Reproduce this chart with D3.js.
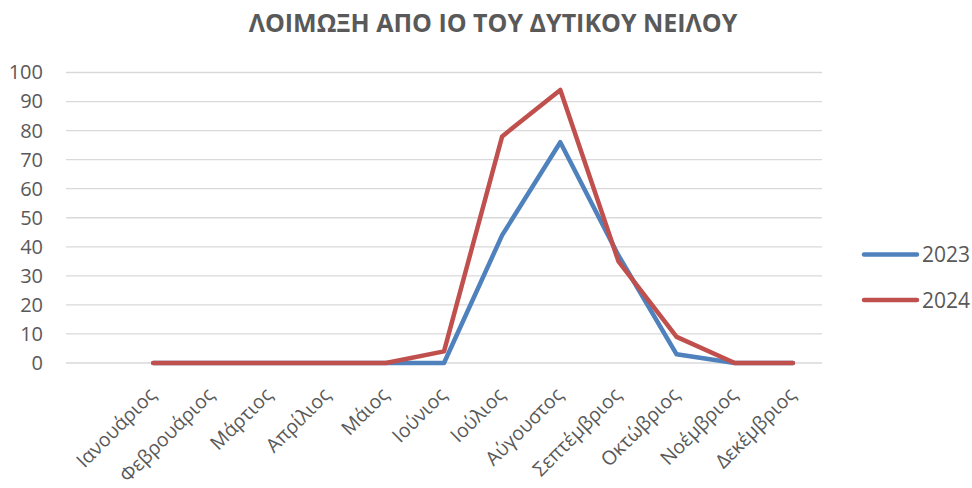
<!DOCTYPE html>
<html>
<head>
<meta charset="utf-8">
<script src="https://cdn.jsdelivr.net/npm/d3@7"></script>
<style>
  body { margin: 0; background: #fff; }
  #chart text { font-family: "Open Sans", sans-serif; fill: #595959; }
  .title { font-size: 25px; font-weight: 700; text-anchor: middle; }
  .grid line { stroke: #d9d9d9; stroke-width: 1.3px; }
  .y.axis text { font-size: 20px; }
  .x.axis text { font-size: 19.5px; }
  .line { fill: none; stroke-width: 4.5px; stroke-linejoin: round; stroke-linecap: round; }
  .legend text { font-size: 21px; }
</style>
</head>
<body>
<svg id="chart" width="972" height="488"></svg>
<script>
// chart data
const months = ["Ιανουάριος", "Φεβρουάριος", "Μάρτιος", "Απρίλιος", "Μάιος", "Ιούνιος",
                "Ιούλιος", "Αύγουστος", "Σεπτέμβριος", "Οκτώβριος", "Νοέμβριος", "Δεκέμβριος"];
const values2023 = [0, 0, 0, 0, 0, 0, 44, 76, 37, 3, 0, 0];
const values2024 = [0, 0, 0, 0, 0, 4, 78, 94, 35, 9, 0, 0];
const yTicks = [0, 10, 20, 30, 40, 50, 60, 70, 80, 90, 100];
const seriesNames = ["2023", "2024"];
const seriesColors = ["#4f81bd", "#c0504d"];
const title = "ΛΟΙΜΩΞΗ ΑΠΟ ΙΟ ΤΟΥ ΔΥΤΙΚΟΥ ΝΕΙΛΟΥ";

const margin = {top: 72.5, right: 150, bottom: 125, left: 66};
const width = 972, height = 488;

const svg = d3.select("#chart");

// the source chart keeps an empty first category slot
const xScale = d3.scaleBand()
    .domain([""].concat(months))
    .range([margin.left, width - margin.right]);
const yScale = d3.scaleLinear()
    .domain([0, 100])
    .range([height - margin.bottom, margin.top]);
const xPos = d => xScale(d) + xScale.bandwidth() / 2;

svg.append("text")
    .attr("class", "title")
    .attr("x", 493)
    .attr("y", 32)
    .text(title);

// gridlines
svg.append("g").attr("class", "grid")
    .selectAll("line").data(yTicks).enter()
    .append("line")
        .attr("x1", margin.left)
        .attr("x2", width - margin.right)
        .attr("y1", d => yScale(d))
        .attr("y2", d => yScale(d));

// y axis labels
let yAxis = svg.append("g")
    .attr("class", "y axis")
    .attr("transform", "translate(" + margin.left + ",0)")
    .call(d3.axisLeft(yScale).tickValues(yTicks).tickSize(0).tickPadding(23));
yAxis.select(".domain").remove();
yAxis.attr("font-family", null);

// x axis labels, rotated
let xAxis = svg.append("g")
    .attr("class", "x axis")
    .attr("transform", "translate(0," + (height - margin.bottom) + ")")
    .call(d3.axisBottom(xScale).tickValues(months).tickSize(0));
xAxis.select(".domain").remove();
xAxis.attr("font-family", null);
xAxis.selectAll("text")
    .attr("text-anchor", "end")
    .attr("dy", null)
    .attr("y", 0)
    .attr("transform", "translate(4,33) rotate(-45)");

const line = d3.line()
    .x((d, i) => xPos(months[i]))
    .y(d => yScale(d));

const series = [values2023, values2024];
svg.selectAll("path.line").data(series).enter()
    .append("path")
        .attr("class", "line")
        .attr("stroke", (d, i) => seriesColors[i])
        .attr("d", line);

// legend
const legend = svg.append("g").attr("class", "legend");
const legendY = d3.scaleOrdinal().domain(seriesNames).range([254.5, 300]);
seriesNames.forEach((name, i) => {
    legend.append("line")
        .attr("x1", 864).attr("x2", 917)
        .attr("y1", legendY(name)).attr("y2", legendY(name))
        .attr("stroke", seriesColors[i])
        .attr("stroke-width", 4.5)
        .attr("stroke-linecap", "round");
    legend.append("text")
        .attr("x", 922)
        .attr("y", legendY(name))
        .attr("dy", "0.36em")
        .text(name);
});
</script>
</body>
</html>
